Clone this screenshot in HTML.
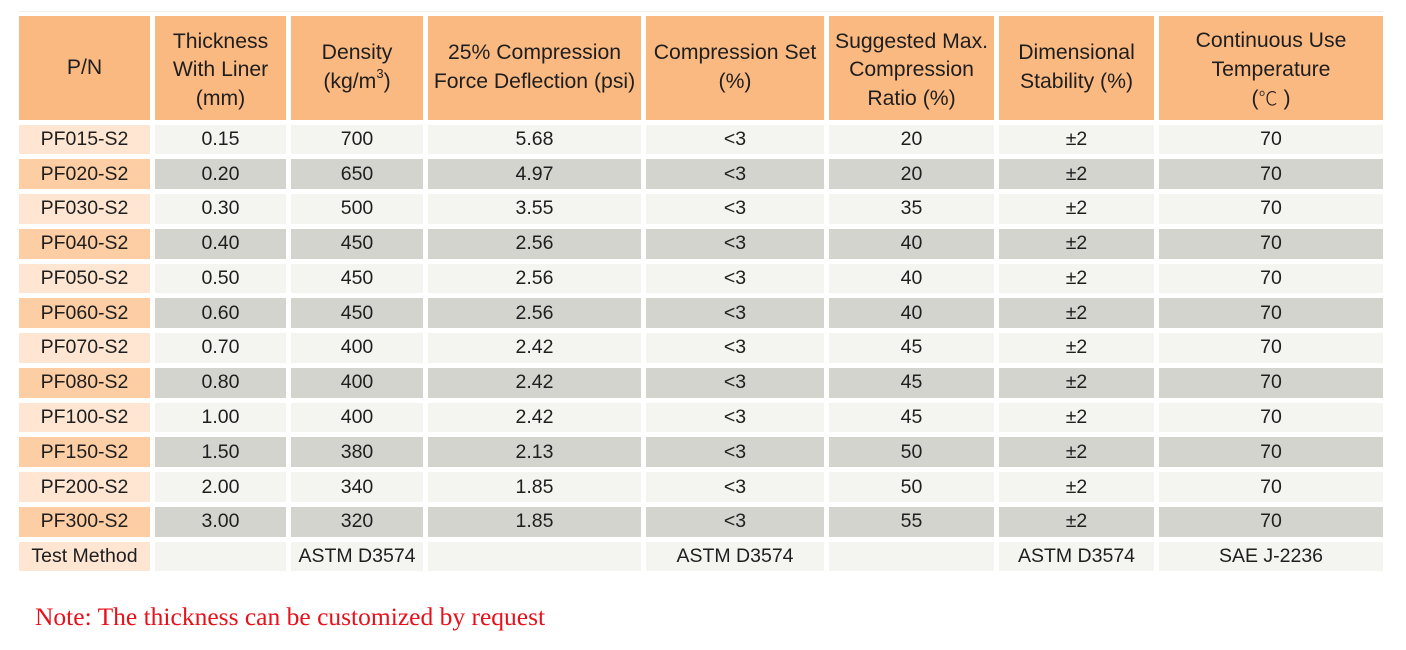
<!DOCTYPE html>
<html>
<head>
<meta charset="utf-8">
<style>
  html, body { margin:0; padding:0; background:#ffffff; }
  body { width:1406px; height:650px; position:relative; overflow:hidden; }
  .topline { position:absolute; left:19px; top:11px; width:1364px; height:1px; background:#f5eee8; }
  .grid {
    position:absolute; left:19px; top:16px;
    display:grid;
    grid-template-columns: 131px 131px 132px 213px 178px 165px 155px 224px;
    grid-template-rows: 103.5px repeat(13, 29.77px);
    column-gap:5px; row-gap:5px;
    font-family:"Liberation Sans", Arial, sans-serif;
    color:#1e1e1e;
  }
  .grid > div {
    display:flex; align-items:center; justify-content:center; text-align:center;
    font-size:19.5px; white-space:nowrap;
  }
  .h { background:#fbb982; font-size:21.2px !important; line-height:28.5px; flex-direction:column; }
  .h3 { padding-top:5px; box-sizing:border-box; }
  .pl { background:#fee6d2; }
  .pd { background:#fdcda3; }
  .l { background:#f4f4f1; }
  .d { background:#d4d4cf; }
  sup { font-size:13px; line-height:0; position:relative; top:-2px; vertical-align:super; }
  .c { font-family:"Noto Sans CJK SC", sans-serif; font-weight:300; font-size:19px; }
  .note {
    position:absolute; left:35px; top:601px;
    font-family:"Liberation Serif", "Times New Roman", serif;
    font-size:25.5px; color:#e8101a; white-space:nowrap; line-height:32px;
  }
</style>
</head>
<body>
<div class="topline"></div>
<div class="grid">
  <div class="h">P/N</div>
  <div class="h h3"><span>Thickness</span><span>With Liner</span><span>(mm)</span></div>
  <div class="h"><span>Density</span><span>(kg/m<sup>3</sup>)</span></div>
  <div class="h"><span>25% Compression</span><span>Force Deflection (psi)</span></div>
  <div class="h"><span>Compression Set</span><span>(%)</span></div>
  <div class="h h3"><span>Suggested Max.</span><span>Compression</span><span>Ratio (%)</span></div>
  <div class="h"><span>Dimensional</span><span>Stability (%)</span></div>
  <div class="h h3"><span>Continuous Use</span><span>Temperature</span><span>(<span class="c">℃</span> )</span></div>

  <div class="pl">PF015-S2</div><div class="l">0.15</div><div class="l">700</div><div class="l">5.68</div><div class="l">&lt;3</div><div class="l">20</div><div class="l">±2</div><div class="l">70</div>
  <div class="pd">PF020-S2</div><div class="d">0.20</div><div class="d">650</div><div class="d">4.97</div><div class="d">&lt;3</div><div class="d">20</div><div class="d">±2</div><div class="d">70</div>
  <div class="pl">PF030-S2</div><div class="l">0.30</div><div class="l">500</div><div class="l">3.55</div><div class="l">&lt;3</div><div class="l">35</div><div class="l">±2</div><div class="l">70</div>
  <div class="pd">PF040-S2</div><div class="d">0.40</div><div class="d">450</div><div class="d">2.56</div><div class="d">&lt;3</div><div class="d">40</div><div class="d">±2</div><div class="d">70</div>
  <div class="pl">PF050-S2</div><div class="l">0.50</div><div class="l">450</div><div class="l">2.56</div><div class="l">&lt;3</div><div class="l">40</div><div class="l">±2</div><div class="l">70</div>
  <div class="pd">PF060-S2</div><div class="d">0.60</div><div class="d">450</div><div class="d">2.56</div><div class="d">&lt;3</div><div class="d">40</div><div class="d">±2</div><div class="d">70</div>
  <div class="pl">PF070-S2</div><div class="l">0.70</div><div class="l">400</div><div class="l">2.42</div><div class="l">&lt;3</div><div class="l">45</div><div class="l">±2</div><div class="l">70</div>
  <div class="pd">PF080-S2</div><div class="d">0.80</div><div class="d">400</div><div class="d">2.42</div><div class="d">&lt;3</div><div class="d">45</div><div class="d">±2</div><div class="d">70</div>
  <div class="pl">PF100-S2</div><div class="l">1.00</div><div class="l">400</div><div class="l">2.42</div><div class="l">&lt;3</div><div class="l">45</div><div class="l">±2</div><div class="l">70</div>
  <div class="pd">PF150-S2</div><div class="d">1.50</div><div class="d">380</div><div class="d">2.13</div><div class="d">&lt;3</div><div class="d">50</div><div class="d">±2</div><div class="d">70</div>
  <div class="pl">PF200-S2</div><div class="l">2.00</div><div class="l">340</div><div class="l">1.85</div><div class="l">&lt;3</div><div class="l">50</div><div class="l">±2</div><div class="l">70</div>
  <div class="pd">PF300-S2</div><div class="d">3.00</div><div class="d">320</div><div class="d">1.85</div><div class="d">&lt;3</div><div class="d">55</div><div class="d">±2</div><div class="d">70</div>
  <div class="pl">Test Method</div><div class="l"></div><div class="l">ASTM D3574</div><div class="l"></div><div class="l">ASTM D3574</div><div class="l"></div><div class="l">ASTM D3574</div><div class="l">SAE J-2236</div>
</div>
<div class="note">Note: The thickness can be customized by request</div>
</body>
</html>
